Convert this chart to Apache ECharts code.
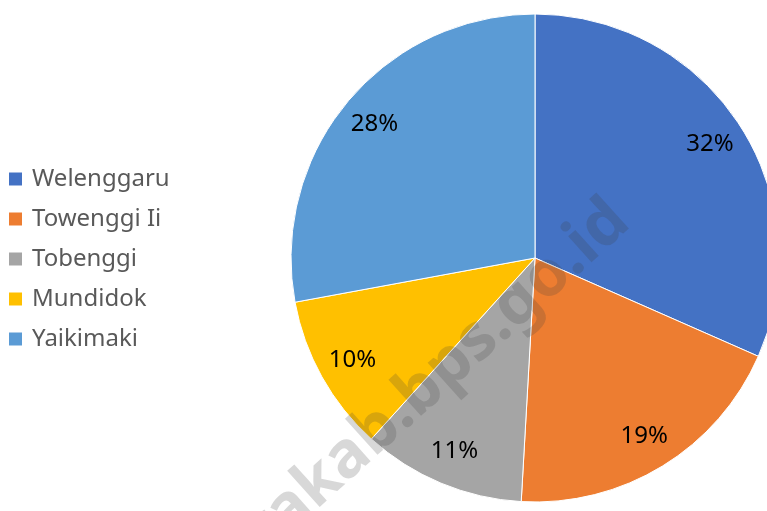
<!DOCTYPE html>
<html>
<head>
<meta charset="utf-8">
<script src="https://cdn.jsdelivr.net/npm/echarts@6/dist/echarts.min.js"></script>
<style>
  html, body { margin: 0; padding: 0; background: #fff; }
  #chart { width: 767px; height: 511px; }
</style>
</head>
<body>
<div id="chart"></div>
<script>
// village shares (%)
const villages = ['Welenggaru', 'Towenggi Ii', 'Tobenggi', 'Mundidok', 'Yaikimaki'];
const shares = [31.6, 19.3, 10.8, 10.4, 27.9];
const colors = ['#4472C4', '#ED7D31', '#A5A5A5', '#FFC000', '#5B9BD5'];

const pieData = villages.map((name, i) => ({ name, value: shares[i] }));

const chart = echarts.init(document.getElementById('chart'));

chart.setOption({
  animation: false,
  color: colors,
  legend: {
    orient: 'vertical',
    left: 2,
    top: 160,
    icon: 'rect',
    itemWidth: 15,
    itemHeight: 15,
    itemGap: 12,
    selectedMode: false,
    data: villages,
    textStyle: {
      fontFamily: 'Noto Sans',
      fontSize: 24,
      lineHeight: 28,
      color: '#595959',
      padding: [0, 0, 0, 4]
    }
  },
  graphic: [{
    type: 'text',
    silent: true,
    z: 100,
    x: 620,
    y: 212,
    rotation: 42 * Math.PI / 180,
    style: {
      text: 'tolikarakab.bps.go.id',
      fontFamily: 'Noto Sans',
      fontWeight: 'bold',
      fontSize: 64,
      fill: 'rgba(60,60,60,0.2)',
      align: 'right',
      verticalAlign: 'middle'
    }
  }],
  series: [
    {
      type: 'pie',
      center: [535, 258],
      radius: [0, 244],
      startAngle: 90,
      clockwise: true,
      silent: true,
      label: { show: false },
      labelLine: { show: false },
      itemStyle: { borderColor: '#fff', borderWidth: 1 },
      data: pieData
    },
    {
      // label ring: transparent, only places the percentages
      type: 'pie',
      center: [535, 258],
      radius: [168, 244],
      startAngle: 90,
      clockwise: true,
      silent: true,
      itemStyle: { color: 'rgba(0,0,0,0)' },
      label: {
        show: true,
        position: 'inside',
        fontFamily: 'Noto Sans',
        fontSize: 24,
        color: '#000',
        formatter: p => Math.round(p.percent) + '%'
      },
      labelLine: { show: false },
      data: pieData
    }
  ]
});
</script>
</body>
</html>
